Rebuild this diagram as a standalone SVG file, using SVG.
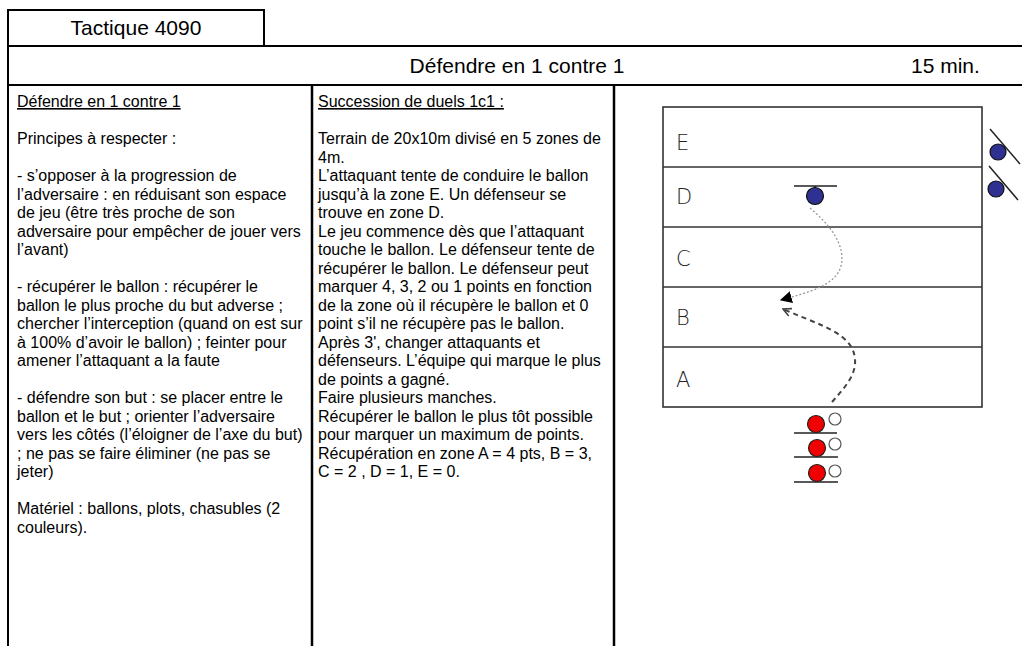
<svg xmlns="http://www.w3.org/2000/svg" width="1022" height="646" viewBox="0 0 1022 646">
<defs>
<style>
.frame{stroke:#000;stroke-width:2;fill:none}
.col{stroke:#000;stroke-width:2.5}
.hdr{font-family:"Liberation Sans",Arial,sans-serif;font-size:21px;fill:#000}
.body{font-family:"Liberation Sans",Arial,sans-serif;font-size:16px;fill:#000}
.u{text-decoration:underline}
.field{stroke:#333;stroke-width:1.6;fill:none}
.zone{font-family:"DejaVu Sans","Liberation Sans",sans-serif;font-weight:200;font-size:21px;fill:#222}
.blue{fill:#2E3192;stroke:#111;stroke-width:1.2}
.red{fill:#F00000;stroke:#222;stroke-width:1.2}
.ball{fill:#fff;stroke:#555;stroke-width:1.2}
.bar{stroke:#222;stroke-width:1.5}
.def{fill:none;stroke:#999;stroke-width:1.3;stroke-dasharray:2 2}
.att{fill:none;stroke:#444;stroke-width:2;stroke-dasharray:5 4}
</style>
<marker id="filled" viewBox="0 0 10 10" refX="9" refY="5" markerWidth="12" markerHeight="12" markerUnits="userSpaceOnUse" orient="auto">
<path d="M0,0 L10,5 L0,10 z" fill="#000"/>
</marker>
<marker id="open" viewBox="0 0 10 10" refX="9" refY="5" markerWidth="10" markerHeight="10" markerUnits="userSpaceOnUse" orient="auto">
<path d="M1,1 L9,5 L1,9" fill="none" stroke="#444" stroke-width="1.6"/>
</marker>
</defs>
<rect width="1022" height="646" fill="#fff"/>

<g id="frame">
<rect class="frame" x="8" y="10" width="256" height="36"/>
<line class="frame" x1="8" y1="46" x2="1022" y2="46"/>
<line class="frame" x1="8" y1="85" x2="1022" y2="85"/>
<line class="frame" x1="8" y1="10" x2="8" y2="646"/>
<line class="col" x1="312" y1="85" x2="312" y2="646"/>
<line class="col" x1="614" y1="85" x2="614" y2="646"/>
<text class="hdr" x="136" y="35" text-anchor="middle">Tactique 4090</text>
<text class="hdr" x="517" y="73" text-anchor="middle">Défendre en 1 contre 1</text>
<text class="hdr" x="911" y="73">15 min.</text>
</g>

<g id="left-text" class="body">
<text x="17" y="107" class="u">Défendre en 1 contre 1</text>
<text x="17" y="144">Principes à respecter :</text>
<text x="17" y="181">- s’opposer à la progression de</text>
<text x="17" y="199.5">l’adversaire : en réduisant son espace</text>
<text x="17" y="218">de jeu (être très proche de son</text>
<text x="17" y="236.5">adversaire pour empêcher de jouer vers</text>
<text x="17" y="255">l’avant)</text>
<text x="17" y="292">- récupérer le ballon : récupérer le</text>
<text x="17" y="310.5">ballon le plus proche du but adverse ;</text>
<text x="17" y="329">chercher l’interception (quand on est sur</text>
<text x="17" y="347.5">à 100% d’avoir le ballon) ; feinter pour</text>
<text x="17" y="366">amener l’attaquant a la faute</text>
<text x="17" y="403">- défendre son but : se placer entre le</text>
<text x="17" y="421.5">ballon et le but ; orienter l’adversaire</text>
<text x="17" y="440">vers les côtés (l’éloigner de l’axe du but)</text>
<text x="17" y="458.5">; ne pas se faire éliminer (ne pas se</text>
<text x="17" y="477">jeter)</text>
<text x="17" y="514">Matériel : ballons, plots, chasubles (2</text>
<text x="17" y="532.5">couleurs).</text>
</g>

<g id="middle-text" class="body">
<text x="318" y="107" class="u">Succession de duels 1c1 :</text>
<text x="318" y="144">Terrain de 20x10m divisé en 5 zones de</text>
<text x="318" y="162.5">4m.</text>
<text x="318" y="181">L’attaquant tente de conduire le ballon</text>
<text x="318" y="199.5">jusqu’à la zone E. Un défenseur se</text>
<text x="318" y="218">trouve en zone D.</text>
<text x="318" y="236.5">Le jeu commence dès que l’attaquant</text>
<text x="318" y="255">touche le ballon. Le défenseur tente de</text>
<text x="318" y="273.5">récupérer le ballon. Le défenseur peut</text>
<text x="318" y="292">marquer 4, 3, 2 ou 1 points en fonction</text>
<text x="318" y="310.5">de la zone où il récupère le ballon et 0</text>
<text x="318" y="329">point s’il ne récupère pas le ballon.</text>
<text x="318" y="347.5">Après 3', changer attaquants et</text>
<text x="318" y="366">défenseurs. L’équipe qui marque le plus</text>
<text x="318" y="384.5">de points a gagné.</text>
<text x="318" y="403">Faire plusieurs manches.</text>
<text x="318" y="421.5">Récupérer le ballon le plus tôt possible</text>
<text x="318" y="440">pour marquer un maximum de points.</text>
<text x="318" y="458.5">Récupération en zone A = 4 pts, B = 3,</text>
<text x="318" y="477">C = 2 , D = 1, E = 0.</text>
</g>

<g id="field">
<rect class="field" x="663" y="107" width="319" height="300"/>
<line class="field" x1="663" y1="167" x2="982" y2="167"/>
<line class="field" x1="663" y1="227" x2="982" y2="227"/>
<line class="field" x1="663" y1="287" x2="982" y2="287"/>
<line class="field" x1="663" y1="347" x2="982" y2="347"/>
<text class="zone" x="676" y="150">E</text>
<text class="zone" x="676" y="204">D</text>
<text class="zone" x="676" y="266">C</text>
<text class="zone" x="676" y="325">B</text>
<text class="zone" x="676" y="387">A</text>
</g>

<g id="connectors">
<path class="def" d="M810,208 C830,225 846,245 841,266 C836,285 810,292 781,300" marker-end="url(#filled)"/>
<path class="att" d="M832,402 C846,386 862,370 852,348 C842,330 812,322 783,309" marker-end="url(#open)"/>
</g>

<g id="defender">
<line class="bar" x1="794" y1="186" x2="837" y2="186"/>
<line class="bar" x1="815" y1="186" x2="815" y2="189"/>
<circle class="blue" cx="815" cy="196" r="8.5"/>
</g>
<g id="waiting-defender-1">
<line class="bar" x1="990" y1="129" x2="1020" y2="164"/>
<circle class="blue" cx="998" cy="152" r="8"/>
</g>
<g id="waiting-defender-2">
<line class="bar" x1="989" y1="166" x2="1018" y2="200"/>
<circle class="blue" cx="996" cy="189" r="8"/>
</g>
<g id="attacker-1">
<line class="bar" x1="794" y1="433" x2="837" y2="433"/>
<circle class="ball" cx="835" cy="419" r="6"/>
<circle class="red" cx="816" cy="424" r="8.5"/>
</g>
<g id="attacker-2">
<line class="bar" x1="794" y1="457" x2="838" y2="457"/>
<circle class="ball" cx="835" cy="444" r="6"/>
<circle class="red" cx="817" cy="448" r="8.5"/>
</g>
<g id="attacker-3">
<line class="bar" x1="794" y1="482" x2="838" y2="482"/>
<circle class="ball" cx="835" cy="471" r="6"/>
<circle class="red" cx="817" cy="473" r="8.5"/>
</g>
</svg>
